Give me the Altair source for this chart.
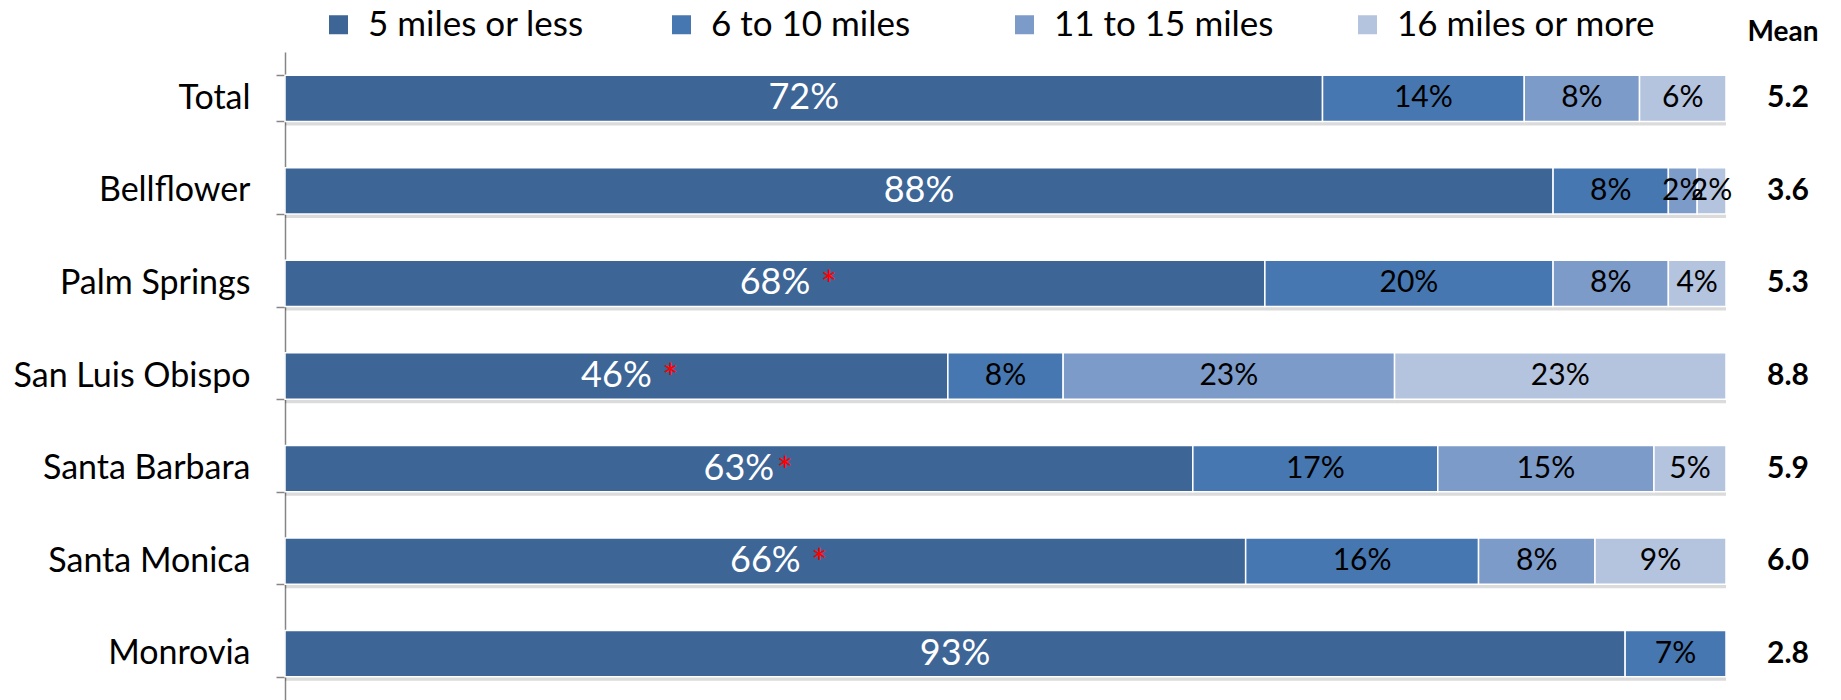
import altair as alt
import pandas as pd

categories = ["Total", "Bellflower", "Palm Springs", "San Luis Obispo",
              "Santa Barbara", "Santa Monica", "Monrovia"]
bands = ["5 miles or less", "6 to 10 miles", "11 to 15 miles", "16 miles or more"]
pct_5_or_less = [72, 88, 68, 46, 63, 66, 93]
pct_6_to_10 = [14, 8, 20, 8, 17, 16, 7]
pct_11_to_15 = [8, 2, 8, 23, 15, 8, 0]
pct_16_plus = [6, 2, 4, 23, 5, 9, 0]
means = ["5.2", "3.6", "5.3", "8.8", "5.9", "6.0", "2.8"]
starred = ["Palm Springs", "San Luis Obispo", "Santa Barbara", "Santa Monica"]
colors = ["#3D6596", "#4777B0", "#7D9BC8", "#B4C3DE"]

FONT = "Lato"

rows = []
for i, cat in enumerate(categories):
    for j, vals in enumerate([pct_5_or_less, pct_6_to_10, pct_11_to_15, pct_16_plus]):
        rows.append({"cat": cat, "band": bands[j], "order": j, "pct": vals[i],
                     "label": f"{vals[i]}%", "star": cat in starred})
df = pd.DataFrame(rows)
mean_df = pd.DataFrame({"cat": categories, "mean": means})
head_df = pd.DataFrame({"t": ["Mean"]})

y_enc = alt.Y("cat:N", sort=categories,
              scale=alt.Scale(paddingInner=0.5, paddingOuter=0.25),
              axis=alt.Axis(title=None, labelFontSize=34, labelFont=FONT, labelColor="black",
                            labelPadding=26, tickSize=9, tickColor="#868686", tickWidth=1.5,
                            domainColor="#868686", domainWidth=1.5, tickBand="extent",
                            labelLimit=500))
x_scale = alt.Scale(domain=[0, 1])

base = alt.Chart(df).transform_filter("datum.pct > 0").transform_stack(
    stack="pct", groupby=["cat"], as_=["s0", "s1"], offset="normalize",
    sort=[alt.SortField("order", "ascending")]
).transform_calculate(mid="(datum.s0 + datum.s1) / 2")

shadow = base.mark_bar(color="#000000", opacity=0.14, yOffset=4).encode(
    x=alt.X("s0:Q", scale=x_scale, axis=None),
    x2="s1:Q",
    y=y_enc,
)

bars = base.mark_bar(stroke="white", strokeWidth=1.5).encode(
    x=alt.X("s0:Q", scale=x_scale, axis=None),
    x2="s1:Q",
    y=y_enc,
    color=alt.Color("band:N", scale=alt.Scale(domain=bands, range=colors),
                    legend=alt.Legend(title=None, orient="none", legendX=36, legendY=-45,
                                      direction="horizontal", columns=4, gridAlign="all",
                                      columnPadding=37, symbolType="square", symbolSize=361,
                                      symbolStrokeWidth=0, symbolOpacity=1,
                                      labelFontSize=35, labelFont=FONT, labelColor="black",
                                      labelOffset=12, padding=0, labelLimit=500)),
)

text_first = base.transform_filter("datum.order == 0").mark_text(
    color="white", fontSize=36, font=FONT, baseline="middle").encode(
    x=alt.X("mid:Q", scale=x_scale, axis=None), y=y_enc, text="label:N")

text_rest = base.transform_filter("datum.order > 0").mark_text(
    color="black", fontSize=30, font=FONT, baseline="middle").encode(
    x=alt.X("mid:Q", scale=x_scale, axis=None), y=y_enc, text="label:N")

stars_a = base.transform_filter(
    "datum.order == 0 && datum.star && datum.cat != 'Santa Barbara'").mark_text(
    color="#FF0000", fontSize=38, font=FONT, baseline="middle", dx=54, dy=5, text="*").encode(
    x=alt.X("mid:Q", scale=x_scale, axis=None), y=y_enc)

stars_b = base.transform_filter(
    "datum.order == 0 && datum.star && datum.cat == 'Santa Barbara'").mark_text(
    color="#FF0000", fontSize=38, font=FONT, baseline="middle", dx=46, dy=5, text="*").encode(
    x=alt.X("mid:Q", scale=x_scale, axis=None), y=y_enc)

mean_text = alt.Chart(mean_df).mark_text(
    fontSize=30, font=FONT, fontWeight="bold", color="black", baseline="middle").encode(
    x=alt.value(1503), y=y_enc, text="mean:N")

mean_head = alt.Chart(head_df).mark_text(
    fontSize=28, font=FONT, fontWeight="bold", color="black", baseline="middle").encode(
    x=alt.value(1498), y=alt.value(-19), text="t:N")

chart = alt.layer(shadow, bars, text_first, text_rest, stars_a, stars_b, mean_text, mean_head).properties(
    width=1441, height=648,
    padding={"left": 285, "top": 52, "right": 115, "bottom": 0},
    autosize=alt.AutoSizeParams(type="none"),
).configure_view(stroke=None)

chart.save("out.html", embed_options={"renderer": "svg", "actions": False})
